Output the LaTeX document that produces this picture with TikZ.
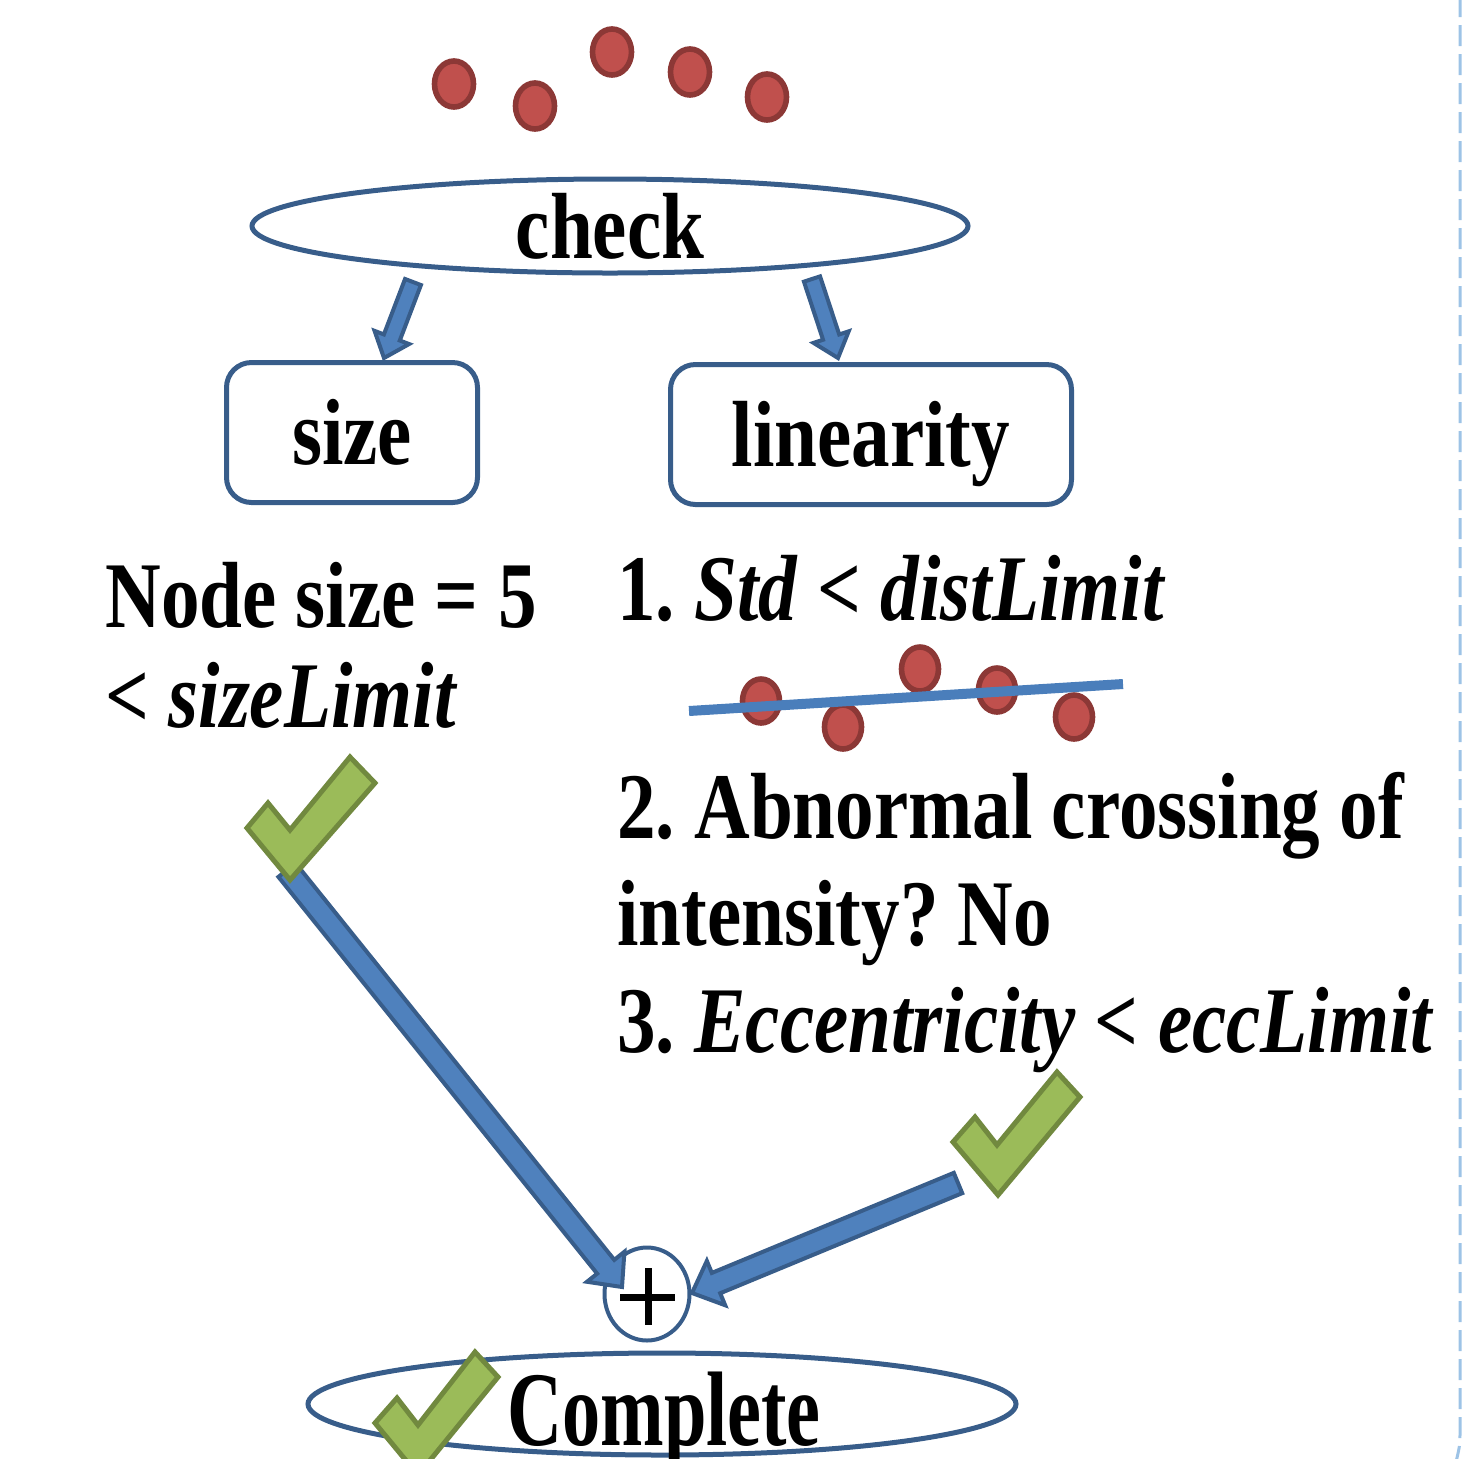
\documentclass[tikz,border=0pt]{standalone}
\usepackage{fontspec}
\setmainfont{Liberation Serif}[FakeStretch=0.82]
\newfontfamily\compfont{Liberation Serif}[FakeStretch=0.72]
\usetikzlibrary{shapes.geometric,calc}
\frenchspacing

\definecolor{outlineblue}{HTML}{385D8A}
\definecolor{arrowblue}{HTML}{4F81BD}
\definecolor{dotred}{HTML}{C0504D}
\definecolor{dotedge}{HTML}{8C3836}
\definecolor{tickgreen}{HTML}{9BBB59}
\definecolor{tickedge}{HTML}{71893F}
\definecolor{fitblue}{HTML}{4A7EBB}
\definecolor{frameblue}{HTML}{9DC3E6}

% Block arrow from #1 to #2: shaft half-width #3, head half-width #4, head length #5
\newcommand\blockarrow[5]{%
  \coordinate (ba-h) at ($(#2)!#5!(#1)$);
  \filldraw[blockarrow]
    ($(#1)!#3!90:(#2)$) -- ($(ba-h)!#3!-90:(#1)$) -- ($(ba-h)!#4!-90:(#1)$) --
    (#2) --
    ($(ba-h)!#4!90:(#1)$) -- ($(ba-h)!#3!90:(#1)$) -- ($(#1)!#3!-90:(#2)$) -- cycle;}

\begin{document}
\begin{tikzpicture}[x=0.5pt,y=-0.5pt,
  every node/.style={font=\fontsize{47pt}{56pt}\selectfont\bfseries, inner sep=0pt},
  ring/.style={ellipse, draw=outlineblue, line width=2.5pt},
  box/.style={draw=outlineblue, line width=2.5pt, rounded corners=12.5pt,
    text height=32pt, text depth=0pt},
  dot/.style={fill=dotred, draw=dotedge, line width=2.8pt},
  tick/.style={fill=tickgreen, draw=tickedge, line width=2.5pt},
  blockarrow/.style={fill=arrowblue, draw=outlineblue, line width=2pt},
  fitline/.style={draw=fitblue, line width=5pt},
  frameline/.style={draw=frameblue, line width=1.5pt, dash pattern=on 10.5pt off 4pt},
  txt/.style={anchor=base west}]
\useasboundingbox (0,0) rectangle (1462,1458);
\clip (0,0) rectangle (1462,1458);

% dashed frame edge on the right
\draw[frameline] (1460,-4) -- (1460,1430) .. controls (1460,1445) .. (1456,1462);

% sample points above the check
\filldraw[dot] (454,84) ellipse [x radius=19.5, y radius=23];
\filldraw[dot] (535,106) ellipse [x radius=19.5, y radius=23];
\filldraw[dot] (612,52) ellipse [x radius=19.5, y radius=23];
\filldraw[dot] (690,72) ellipse [x radius=19.5, y radius=23];
\filldraw[dot] (767,97) ellipse [x radius=19.5, y radius=23];

% check node and its two criteria
\node[ring, minimum width=358pt, minimum height=47pt, text height=32pt, text depth=0pt]
  (chk) at (610,226) {check};
\node[box, minimum width=125.5pt, minimum height=70pt] (size) at (352,432.5) {size};
\node[box, minimum width=200.5pt, minimum height=70pt] (lin) at (871,434.5) {linearity};

\coordinate (a1s) at (413,282);
\coordinate (a1e) at (384,358);
\coordinate (a2s) at (812,279);
\coordinate (a2e) at (838,358);
\blockarrow{a1s}{a1e}{4.25pt}{9.25pt}{11pt}
\blockarrow{a2s}{a2e}{4.25pt}{9.25pt}{11pt}

% size criterion
\node[txt] (t1) at (105,627) {Node size = 5};
\node[txt] (t2) at (105,727) {< \textit{sizeLimit}};

% linearity criteria
\node[txt] (r1) at (617,620) {1. \textit{Std} < \textit{distLimit}};
\filldraw[dot] (761,701) ellipse [x radius=18.5, y radius=22];
\filldraw[dot] (843,727) ellipse [x radius=18.5, y radius=22];
\filldraw[dot] (920,669) ellipse [x radius=18.5, y radius=22];
\filldraw[dot] (997,690) ellipse [x radius=18.5, y radius=22];
\filldraw[dot] (1074,717) ellipse [x radius=18.5, y radius=22];
\draw[fitline] (689,711) -- (1123,684);
\node[txt] (r2) at (617,838) {2. Abnormal crossing of};
\node[txt] (r3) at (617,945) {intensity? No};
\node[txt] (r4) at (617,1052) {3. \textit{Eccentricity} < \textit{eccLimit}};

% combination
\node[ellipse, draw=outlineblue, line width=2pt, minimum width=42.5pt, minimum height=46.5pt]
  (plus) at (647,1294) {};
\draw[line width=3.5pt] ($(plus.center)+(-27,3)$) -- ($(plus.center)+(28,3)$);
\draw[line width=3.5pt] ($(plus.center)+(1,-26)$) -- ($(plus.center)+(1,31)$);

\coordinate (l1s) at (287,870);
\coordinate (l1e) at (622,1287);
\coordinate (l2s) at (958,1183);
\coordinate (l2e) at (692,1293);
\blockarrow{l1s}{l1e}{5.5pt}{12pt}{13pt}
\blockarrow{l2s}{l2e}{5.5pt}{12pt}{13pt}

% result
\node[ring, minimum width=354pt, minimum height=51pt] (comp) at (662,1404) {};
\node[anchor=base, font=\fontsize{53pt}{60pt}\selectfont\compfont\bfseries]
  (comptext) at (664,1445) {Complete};

% check marks
\filldraw[tick] (247,828) -- (268,803) -- (290,830) -- (350,757) -- (375,783) -- (290,880) -- cycle;
\filldraw[tick] (953,1142) -- (975,1117) -- (997,1145) -- (1057,1072) -- (1080,1097) -- (998,1195) -- cycle;
\filldraw[tick] (375,1423) -- (397,1398) -- (418,1425) -- (475,1352) -- (498,1377) -- (418,1475) -- cycle;
\end{tikzpicture}
\end{document}
